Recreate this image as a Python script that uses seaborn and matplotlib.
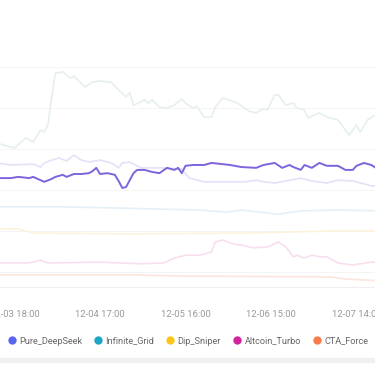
import matplotlib
matplotlib.use("Agg")
import matplotlib.pyplot as plt
from matplotlib import patches
from matplotlib.lines import Line2D
import pandas as pd
import seaborn as sns

BASE_TIME = "2025-12-03 18:00"

# hour offsets from BASE_TIME, values (arbitrary units, no y labels shown)
focus_hours = [-5, -1, 1, 4, 5, 8, 10, 11, 13, 14, 16, 18, 20, 21, 22, 23, 25, 27, 28, 29, 30, 32, 33, 35, 37,
               39, 41, 43, 44, 45, 46, 48, 51, 53, 56, 58, 61, 65, 67, 70, 72, 74, 75, 77, 78, 80, 82, 84, 87,
               89, 91, 92, 94, 96, 98]
focus_values = [22.9, 22.9, 23.2, 22.9, 23.2, 22.0, 22.7, 23.2, 23.7, 23.2, 23.9, 23.9, 24.1, 24.6, 25.4, 23.9,
                24.1, 23.7, 22.2, 20.5, 20.7, 24.1, 24.9, 24.9, 24.4, 24.1, 25.4, 24.9, 25.4, 24.1, 25.9, 26.1,
                26.1, 26.6, 26.3, 26.1, 25.6, 25.4, 26.1, 26.6, 25.4, 26.1, 25.6, 24.9, 26.1, 25.4, 26.6, 25.9,
                25.9, 24.9, 24.9, 25.9, 26.6, 26.1, 24.9]

green_hours = [-5, 0, 3, 5, 7, 8, 9, 10, 11, 13, 15, 16, 19, 21, 23, 26, 28, 30, 31, 32, 34, 35, 36, 37, 39, 41,
               43, 45, 46, 48, 49, 51, 53, 54, 56, 57, 60, 63, 65, 67, 68, 70, 71, 73, 75, 76, 78, 79, 82, 84,
               87, 90, 92, 93, 95, 97, 99]
green_values = [31.5, 30.2, 32.7, 31.7, 34.6, 34.1, 35.9, 42.7, 48.5, 48.8, 47.3, 47.8, 45.1, 46.3, 46.6, 46.3,
                44.4, 42.7, 43.7, 40.7, 41.5, 42.0, 41.2, 42.0, 40.2, 40.0, 40.7, 42.2, 41.2, 40.0, 40.5, 37.8,
                37.8, 40.2, 42.4, 42.2, 41.2, 39.3, 38.8, 39.8, 39.5, 43.2, 43.2, 40.7, 41.2, 40.0, 39.5, 37.6,
                38.8, 37.8, 37.1, 33.4, 35.9, 34.1, 37.1, 38.3, 39.0]

deepseek_hours = [-5, -1, 5, 7, 8, 10, 12, 14, 16, 18, 20, 23, 26, 28, 29, 31, 34, 39, 45, 47, 51, 58, 62, 65,
                  67, 70, 73, 77, 80, 84, 87, 91, 94, 96, 99]
deepseek_values = [26.6, 26.1, 26.3, 25.6, 26.6, 27.3, 27.8, 27.1, 28.5, 27.3, 26.8, 27.3, 26.6, 25.4, 26.6, 26.8,
                   25.4, 25.4, 25.1, 22.9, 22.0, 22.0, 22.0, 22.4, 22.0, 21.7, 22.2, 22.9, 22.2, 21.7, 22.4,
                   22.2, 21.5, 21.0, 21.0]

grid_hours = [-5, 12, 28, 50, 57, 61, 71, 77, 87, 99]
grid_values = [15.9, 15.9, 15.6, 15.1, 14.6, 15.1, 14.1, 14.9, 15.1, 14.9]

sniper_hours = [-5, 1, 5, 31, 63, 85, 99]
sniper_values = [10.5, 10.5, 9.5, 9.3, 9.5, 10.0, 10.0]

turbo_hours = [-5, 4, 7, 9, 23, 34, 40, 43, 46, 50, 53, 54, 56, 58, 59, 61, 64, 68, 71, 73, 75, 76, 78, 80, 82,
               84, 87, 91, 93, 96, 99]
turbo_values = [2.2, 2.2, 2.9, 2.2, 2.4, 2.0, 2.2, 3.4, 4.1, 4.1, 4.9, 7.3, 7.8, 7.1, 6.8, 6.6, 5.9, 6.1, 7.3,
                6.1, 3.7, 4.1, 3.4, 4.1, 3.7, 3.7, 2.2, 1.7, 2.0, 2.4, 2.4]

cta_hours = [-5, 31, 46, 85, 89, 99]
cta_values = [-0.7, -0.7, -1.0, -1.2, -1.7, -2.2]

tick_hours = [0, 23, 46, 69, 92]
legend_names = ["Pure_DeepSeek", "Infinite_Grid", "Dip_Sniper", "Altcoin_Turbo", "CTA_Force"]
legend_colors = ["#5b66f0", "#1ba6c6", "#fcc51a", "#d2239f", "#f97b4b"]


def to_time(hours):
    return pd.to_datetime(BASE_TIME) + pd.to_timedelta(hours, unit="h")


def main() -> None:
    sns.set_theme(style="white")
    plt.rcParams["font.family"] = ["Roboto", "DejaVu Sans"]

    fig = plt.figure(figsize=(3.75, 3.66), dpi=100)
    ax = fig.add_axes([0, 1 - 287 / 366, 1, 220 / 366])

    faded = [
        (green_hours, green_values, "#e5f0ec"),
        (deepseek_hours, deepseek_values, "#e3e2f8"),
        (grid_hours, grid_values, "#e5eff6"),
        (sniper_hours, sniper_values, "#fdf3dc"),
        (turbo_hours, turbo_values, "#f7dff0"),
        (cta_hours, cta_values, "#fce5dc"),
    ]
    for hours, values, color in faded:
        sns.lineplot(x=to_time(hours), y=values, ax=ax, color=color, linewidth=1.2)
    sns.lineplot(x=to_time(focus_hours), y=focus_values, ax=ax, color="#7e64dc", linewidth=1.4)

    ax.set_xlim(to_time(-3.9), to_time(96.97))
    ax.set_ylim(-3.66, 50)
    ax.set_yticks([0, 10, 20, 30, 40, 50])
    ax.set_yticklabels([])
    ax.yaxis.grid(True, color="#f4f4f4", linewidth=0.7)
    ax.xaxis.grid(False)
    ax.set_axisbelow(True)

    ax.set_xticks(to_time(tick_hours))
    ax.set_xticklabels([t.strftime("%m-%d %H:%M") for t in to_time(tick_hours)])
    ax.tick_params(axis="x", length=0, pad=16.5, labelsize=6.8, labelcolor="#9a9a9a")
    ax.tick_params(axis="y", length=0)
    ax.set_xlabel("")
    ax.set_ylabel("")
    for side in ["top", "left", "right"]:
        ax.spines[side].set_visible(False)
    ax.spines["bottom"].set_color("#efefef")
    ax.spines["bottom"].set_linewidth(0.7)

    handles = [
        Line2D([], [], marker="o", linestyle="none", markersize=6, color=c, markeredgewidth=0)
        for c in legend_colors
    ]
    fig.legend(
        handles,
        legend_names,
        loc="center",
        bbox_to_anchor=(0.501, 1 - 341 / 366),
        ncol=5,
        frameon=False,
        fontsize=6.6,
        labelcolor="#666666",
        handlelength=0.9,
        handletextpad=0.35,
        columnspacing=1.3,
        borderpad=0,
    )

    fig.patches.append(
        patches.Rectangle((0, 1 - 362 / 366), 1, 4 / 366, transform=fig.transFigure, color="#f0f0f0", zorder=0)
    )

    fig.savefig("out.png", dpi=100)
    plt.close(fig)


if __name__ == "__main__":
    main()
